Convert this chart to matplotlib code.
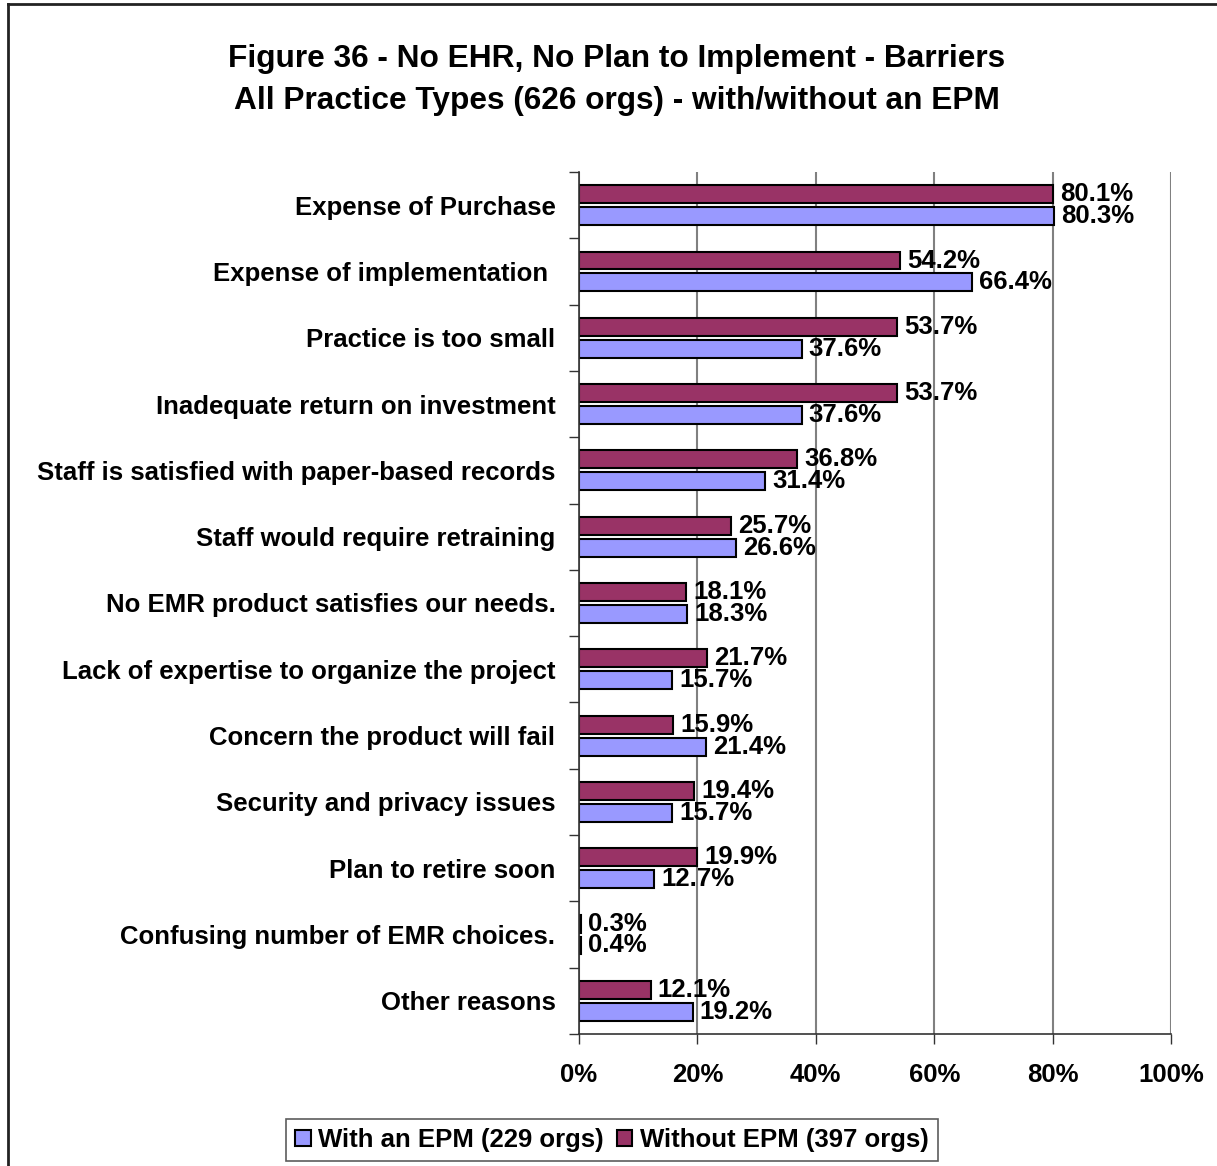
import numpy as np
import matplotlib.pyplot as plt
from matplotlib.lines import Line2D
from matplotlib.ticker import FuncFormatter

plt.rcParams['font.family'] = ['Liberation Sans', 'DejaVu Sans']
plt.rcParams['font.weight'] = 'bold'

categories = [
    "Expense of Purchase",
    "Expense of implementation ",
    "Practice is too small",
    "Inadequate return on investment",
    "Staff is satisfied with paper-based records",
    "Staff would require retraining",
    "No EMR product satisfies our needs.",
    "Lack of expertise to organize the project",
    "Concern the product will fail",
    "Security and privacy issues",
    "Plan to retire soon",
    "Confusing number of EMR choices.",
    "Other reasons",
]
with_epm = [80.3, 66.4, 37.6, 37.6, 31.4, 26.6, 18.3, 15.7, 21.4, 15.7, 12.7, 0.4, 19.2]
without_epm = [80.1, 54.2, 53.7, 53.7, 36.8, 25.7, 18.1, 21.7, 15.9, 19.4, 19.9, 0.3, 12.1]
xticks = [0, 20, 40, 60, 80, 100]

blue = "#9999FF"
red = "#993366"

fig = plt.figure(figsize=(12.17, 11.66), dpi=100)
ax = fig.add_axes([579 / 1217, 1 - 1034 / 1166, 592 / 1217, 862 / 1166])

y = np.arange(len(categories))
h = 0.27
off = 0.165
ax.barh(y - off, without_epm, h, color=red, edgecolor="black", linewidth=1.5,
        label="Without EPM (397 orgs)", zorder=3)
ax.barh(y + off, with_epm, h, color=blue, edgecolor="black", linewidth=1.5,
        label="With an EPM (229 orgs)", zorder=3)

for i in range(len(categories)):
    ax.text(without_epm[i] + 1.2, y[i] - off, f"{without_epm[i]:.1f}%",
            va="center", ha="left", fontsize=18.5, fontweight="bold", zorder=4)
    ax.text(with_epm[i] + 1.2, y[i] + off, f"{with_epm[i]:.1f}%",
            va="center", ha="left", fontsize=18.5, fontweight="bold", zorder=4)

ax.set_xlim(0, 100)
ax.set_ylim(len(categories) - 0.5, -0.5)
ax.set_xticks(xticks)
ax.xaxis.set_major_formatter(FuncFormatter(lambda v, p: f"{v:.0f}%"))
ax.set_yticks(y)
ax.set_yticklabels(categories)
ax.set_yticks(np.arange(len(categories) + 1) - 0.5, minor=True)
ax.tick_params(axis="y", which="major", length=0, pad=17, labelsize=18.5)
ax.tick_params(axis="y", which="minor", length=7, width=1, color="#333333")
ax.tick_params(axis="x", length=7, width=1, color="#333333", pad=14, labelsize=18.5)
for lab in ax.get_xticklabels() + ax.get_yticklabels():
    lab.set_fontweight("bold")

ax.grid(axis="x", color="#808080", linewidth=1.5, zorder=0)
for s in ["top", "right"]:
    ax.spines[s].set_visible(False)
ax.spines["left"].set_color("#333333")
ax.spines["bottom"].set_color("#333333")
ax.spines["left"].set_linewidth(1.2)
ax.spines["bottom"].set_linewidth(1.2)
ax.spines["left"].set_zorder(5)

fig.text(617 / 1217, 1 - 59 / 1166, "Figure 36 - No EHR, No Plan to Implement - Barriers",
         ha="center", va="center", fontsize=22.8, fontweight="bold")
fig.text(617 / 1217, 1 - 101 / 1166, "All Practice Types (626 orgs) - with/without an EPM",
         ha="center", va="center", fontsize=22.8, fontweight="bold")

handles, labels = ax.get_legend_handles_labels()
leg = fig.legend(handles[::-1], labels[::-1], loc="center", bbox_to_anchor=(612 / 1217, 1 - 1140 / 1166),
                 ncol=2, frameon=True, fancybox=False, edgecolor="#333333",
                 handlelength=0.6, handleheight=0.6, handletextpad=0.3, columnspacing=0.5,
                 borderpad=0.35, prop={"weight": "bold", "size": 18.5})
leg.get_frame().set_linewidth(1.2)

fig.add_artist(Line2D([8 / 1217, 8 / 1217], [0, 1 - 4 / 1166], transform=fig.transFigure,
                      color="#222222", linewidth=2))
fig.add_artist(Line2D([8 / 1217, 1], [1 - 4 / 1166, 1 - 4 / 1166], transform=fig.transFigure,
                      color="#222222", linewidth=2))

plt.savefig("out.png", dpi=100)
